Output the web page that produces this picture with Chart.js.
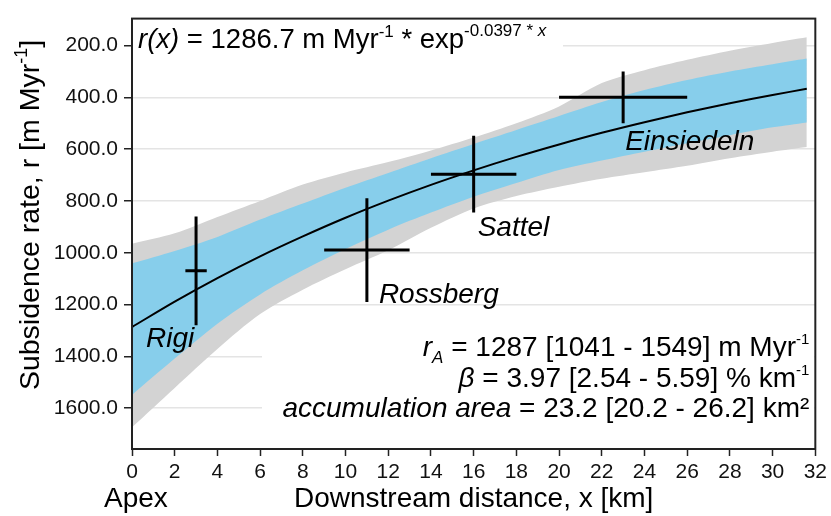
<!DOCTYPE html>
<html>
<head>
<meta charset="utf-8">
<script src="https://cdn.jsdelivr.net/npm/chart.js@4.4.1/dist/chart.umd.min.js"></script>
<style>
html, body { margin: 0; padding: 0; background: #fff; }
#wrap { width: 831px; height: 516px; }
</style>
</head>
<body>
<div id="wrap"><canvas id="c" width="831" height="516"></canvas></div>
<script>
// distance from apex (km) where the fit and bands are read
const distKm   = [0, 2, 4, 6, 8, 10, 12, 14, 16, 18, 20, 22, 24, 26, 28, 30, 31.6];
// fitted subsidence rate r(x) (m/Myr)
const fitRate  = [1287, 1189, 1098, 1014, 937, 865, 799, 738, 682, 630, 582, 537, 496, 458, 423, 391, 367];
// inner (blue) band
const blueLow  = [1041, 993, 939, 872, 810, 749, 692, 635, 580, 526, 472, 418, 372, 333, 300, 272, 250];
const blueHigh = [1549, 1409, 1274, 1161, 1068, 986, 911, 845, 784, 731, 681, 644, 610, 577, 546, 516, 497];
// outer (grey) band
const greyLow  = [965, 925, 862, 800, 737, 690, 650, 605, 555, 500, 435, 345, 295, 255, 220, 190, 168];
const greyHigh = [1674, 1522, 1372, 1237, 1143, 1064, 991, 904, 829, 781, 745, 714, 689, 664, 635, 610, 592];

// measured sites
const sites        = ['Rigi', 'Rossberg', 'Sattel', 'Einsiedeln'];
const siteX        = [3, 11, 16, 23];
const siteXErr     = [0.5, 2, 2, 3];
const siteRate     = [1070, 990, 697, 400];
const siteRateLow  = [860, 790, 548, 300];
const siteRateHigh = [1280, 1190, 845, 500];

const xTicks = [0, 2, 4, 6, 8, 10, 12, 14, 16, 18, 20, 22, 24, 26, 28, 30, 32];
const yTicks = [200, 400, 600, 800, 1000, 1200, 1400, 1600];

const FONT = 'Liberation Sans, Arial, Helvetica, sans-serif';
const fn = s => s + 'px ' + FONT;
const fi = s => 'italic ' + s + 'px ' + FONT;

// label placement relative to bottom of each vertical error bar (px)
const labelOffset = [[-50, 14], [12, -7], [4, 16], [2, 19]];

function pts(ys) { return distKm.map((x, i) => ({ x: x, y: ys[i] })); }

function drawRuns(ctx, runs, x, y, align) {
  let w = 0;
  runs.forEach(r => { ctx.font = r.f; w += ctx.measureText(r.t).width; });
  let cx = align === 'right' ? x - w : (align === 'center' ? x - w / 2 : x);
  ctx.textAlign = 'left';
  ctx.textBaseline = 'alphabetic';
  runs.forEach(r => {
    ctx.font = r.f;
    ctx.fillText(r.t, cx, y + (r.dy || 0));
    cx += ctx.measureText(r.t).width;
  });
}

const overlay = {
  id: 'overlay',
  afterDatasetsDraw(chart) {
    const ctx = chart.ctx, a = chart.chartArea;
    const xs = chart.scales.x, ys = chart.scales.y;
    ctx.save();
    // error crosses
    ctx.strokeStyle = '#000';
    ctx.lineWidth = 3;
    ctx.lineCap = 'butt';
    for (let i = 0; i < sites.length; i++) {
      const px = xs.getPixelForValue(siteX[i]);
      const py = ys.getPixelForValue(siteRate[i]);
      ctx.beginPath();
      ctx.moveTo(xs.getPixelForValue(siteX[i] - siteXErr[i]), py);
      ctx.lineTo(xs.getPixelForValue(siteX[i] + siteXErr[i]), py);
      ctx.moveTo(px, ys.getPixelForValue(siteRateLow[i]));
      ctx.lineTo(px, ys.getPixelForValue(siteRateHigh[i]));
      ctx.stroke();
      ctx.fillStyle = '#000';
      ctx.font = fi(28);
      ctx.textAlign = 'left';
      ctx.textBaseline = 'middle';
      ctx.fillText(sites[i], px + labelOffset[i][0], ys.getPixelForValue(siteRateHigh[i]) + labelOffset[i][1]);
    }
    // white boxes behind the text blocks
    ctx.fillStyle = '#fff';
    ctx.fillRect(a.left + 1, 22, 430, 34);
    ctx.fillRect(262, 326, a.right - 263, a.bottom - 327);
    ctx.fillStyle = '#000';
    const E = 27.5, s = 17;
    drawRuns(ctx, [
      { t: 'r(x)', f: fi(E) }, { t: ' = 1286.7 m Myr', f: fn(E) }, { t: '-1', f: fn(s), dy: -11 },
      { t: ' * exp', f: fn(E) }, { t: '-0.0397 * ', f: fn(s), dy: -12 }, { t: 'x', f: fi(s), dy: -12 }
    ], a.left + 6, 48, 'left');
    const S = 28, rx = a.right - 6;
    drawRuns(ctx, [
      { t: 'r', f: fi(S) }, { t: 'A', f: fi(s), dy: 7 }, { t: ' = 1287 [1041 - 1549] m Myr', f: fn(S) },
      { t: '-1', f: fn(s - 2), dy: -12 }
    ], rx, 356, 'right');
    drawRuns(ctx, [
      { t: '\u03b2', f: fi(S) }, { t: ' = 3.97 [2.54 - 5.59] % km', f: fn(S) }, { t: '-1', f: fn(s - 2), dy: -12 }
    ], rx, 387, 'right');
    drawRuns(ctx, [
      { t: 'accumulation area', f: fi(S) }, { t: ' = 23.2 [20.2 - 26.2] km\u00b2', f: fn(S) }
    ], rx, 417, 'right');
    // frame
    ctx.strokeStyle = '#222';
    ctx.lineWidth = 2;
    ctx.strokeRect(a.left, a.top, a.right - a.left, a.bottom - a.top);
    // axis titles
    ctx.fillStyle = '#000';
    drawRuns(ctx, [{ t: 'Downstream distance, x [km]', f: fn(28) }], (a.left + a.right) / 2, 507, 'center');
    drawRuns(ctx, [{ t: 'Apex', f: fn(28) }], 104, 507, 'left');
    ctx.translate(39, 215);
    ctx.rotate(-Math.PI / 2);
    drawRuns(ctx, [
      { t: 'Subsidence rate, r [m Myr', f: fn(28.5) }, { t: '-1', f: fn(18), dy: -12 }, { t: ']', f: fn(28.5) }
    ], 0, 0, 'center');
    ctx.restore();
  }
};

const band = (d, fill, color) => ({
  data: pts(d), borderWidth: 0, pointRadius: 0, fill: fill, backgroundColor: color, tension: 0.3
});

new Chart(document.getElementById('c'), {
  type: 'line',
  data: {
    datasets: [
      { data: pts(fitRate), borderColor: '#000', borderWidth: 2, pointRadius: 0, fill: false, tension: 0.3 },
      band(blueLow, '+1', '#87ceeb'),
      band(blueHigh, false, '#87ceeb'),
      band(greyLow, '+1', '#d3d3d3'),
      band(greyHigh, false, '#d3d3d3')
    ]
  },
  options: {
    responsive: false,
    animation: false,
    layout: { padding: { top: 11, right: 13, left: 0, bottom: 0 } },
    plugins: { legend: { display: false }, tooltip: { enabled: false } },
    scales: {
      x: {
        type: 'linear', min: 0, max: 32,
        afterBuildTicks: sc => { sc.ticks = xTicks.map(v => ({ value: v })); },
        afterFit: sc => { sc.height = 67; },
        grid: { drawOnChartArea: false, tickColor: '#222', tickLength: 7, tickWidth: 1.5 },
        border: { color: '#222', width: 2 },
        ticks: { font: { family: FONT, size: 21 }, color: '#111', padding: 4, maxRotation: 0, autoSkip: false }
      },
      y: {
        type: 'linear', reverse: true, min: 96, max: 1758,
        afterBuildTicks: sc => { sc.ticks = yTicks.map(v => ({ value: v })); },
        afterFit: sc => { sc.width = 132; },
        grid: { color: '#e4e4e4', lineWidth: 1.5, tickColor: '#222', tickLength: 8, tickWidth: 1.5 },
        border: { color: '#222', width: 2 },
        ticks: { font: { family: FONT, size: 21 }, color: '#111', padding: 6, callback: v => v.toFixed(1) }
      }
    }
  },
  plugins: [overlay]
});
</script>
</body>
</html>
